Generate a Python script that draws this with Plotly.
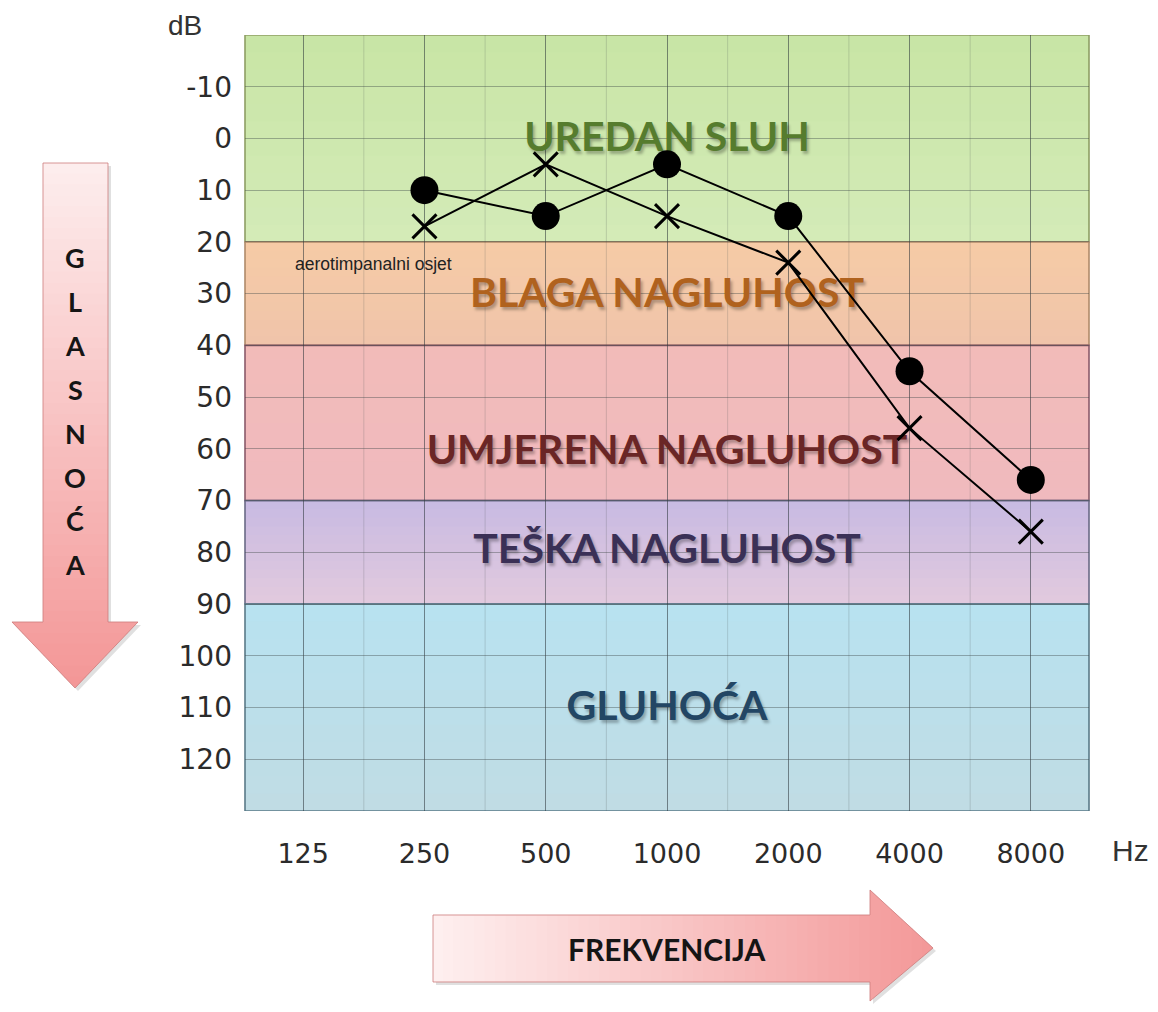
import plotly.graph_objects as go

# ---------------- data ----------------
FREQS = ["125", "250", "500", "1000", "2000", "4000", "8000"]
Y_TICKS = [-10, 0, 10, 20, 30, 40, 50, 60, 70, 80, 90, 100, 110, 120]

O_FREQS = ["250", "500", "1000", "2000", "4000", "8000"]
O_DB = [10, 15, 5, 15, 45, 66]

X_FREQS = ["250", "500", "1000", "2000", "4000", "8000"]
X_DB = [17, 5, 15, 24, 56, 76]

BAND_EDGES = [-20, 20, 40, 70, 90, 130]
BAND_NAMES = ["UREDAN SLUH", "BLAGA NAGLUHOST", "UMJERENA NAGLUHOST",
              "TEŠKA NAGLUHOST", "GLUHOĆA"]
BAND_LABEL_DB = [0.5, 30.5, 61, 80, 110.5]
BAND_TOP_COLORS = [(200, 229, 165), (246, 203, 166), (242, 187, 185), (200, 186, 226), (184, 226, 240)]
BAND_BOT_COLORS = [(212, 235, 184), (240, 196, 170), (240, 186, 190), (226, 202, 222), (192, 220, 228)]
BAND_LINE_COLORS = ["#8e9e64", "#b08a6a", "#8a5a6a", "#6a6a86", "#5a7a88"]
BAND_TEXT_COLORS = ["#567c2e", "#b0621e", "#6a2626", "#3a3056", "#234664"]

# ---------------- geometry helpers (screen pixel -> paper) ----------------
OFF = 8                      # page body margin
W, H = 1158 - 2 * OFF, 1012 - 2 * OFF
L, R, T, B = 245, 1089, 35, 811   # plot area in screen pixels


def px(xs):
    return (xs - L) / (R - L)


def py(ys):
    return (B - ys) / (B - T)


def clip_half(poly, axis, val, keep_greater):
    out = []
    n = len(poly)
    for i in range(n):
        cur, prev = poly[i], poly[i - 1]
        cin = cur[axis] >= val if keep_greater else cur[axis] <= val
        pin = prev[axis] >= val if keep_greater else prev[axis] <= val
        if cin:
            if not pin:
                t = (val - prev[axis]) / (cur[axis] - prev[axis])
                out.append((prev[0] + t * (cur[0] - prev[0]), prev[1] + t * (cur[1] - prev[1])))
            out.append(cur)
        elif pin:
            t = (val - prev[axis]) / (cur[axis] - prev[axis])
            out.append((prev[0] + t * (cur[0] - prev[0]), prev[1] + t * (cur[1] - prev[1])))
    return out


def path_of(poly, dx=0, dy=0):
    pts = ["%s%.5f,%.5f" % ("M" if i == 0 else "L", px(x + dx), py(y + dy)) for i, (x, y) in enumerate(poly)]
    return " ".join(pts) + " Z"


def lerp(c0, c1, t):
    return "rgb(%d,%d,%d)" % tuple(round(a + (b - a) * t) for a, b in zip(c0, c1))


def gradient_arrow(poly, axis, c0, c1, n=48):
    shapes = []
    lo = min(p[axis] for p in poly)
    hi = max(p[axis] for p in poly)
    shapes.append(dict(type="path", xref="paper", yref="paper", path=path_of(poly, 3, 3),
                       fillcolor="rgba(0,0,0,0.12)", line=dict(width=0), layer="above"))
    step = (hi - lo) / n
    for i in range(n):
        a = lo + i * step - 0.6
        b = lo + (i + 1) * step + 0.6
        piece = clip_half(clip_half(poly, axis, a, True), axis, b, False)
        if len(piece) < 3:
            continue
        shapes.append(dict(type="path", xref="paper", yref="paper", path=path_of(piece),
                           fillcolor=lerp(c0, c1, (i + 0.5) / n), line=dict(width=0), layer="above"))
    shapes.append(dict(type="path", xref="paper", yref="paper", path=path_of(poly),
                       fillcolor="rgba(0,0,0,0)", line=dict(color="rgba(205,125,125,0.8)", width=1),
                       layer="above"))
    return shapes


# ---------------- figure ----------------
fig = go.Figure()

shapes = []
for k in range(len(BAND_NAMES)):
    y0, y1 = BAND_EDGES[k], BAND_EDGES[k + 1]
    nst = 12
    for i in range(nst):
        a = y0 + (y1 - y0) * i / nst
        b = min(y1, y0 + (y1 - y0) * (i + 1) / nst + 0.4)   # slight overlap hides seams
        shapes.append(dict(type="rect", xref="paper", yref="y", x0=0, x1=1, y0=a, y1=b,
                           fillcolor=lerp(BAND_TOP_COLORS[k], BAND_BOT_COLORS[k], (i + 0.5) / nst),
                           line=dict(width=0), layer="below"))
    shapes.append(dict(type="rect", xref="paper", yref="y", x0=0, x1=1, y0=y0, y1=y1,
                       fillcolor="rgba(0,0,0,0)", line=dict(color=BAND_LINE_COLORS[k], width=1.6),
                       layer="between"))

for i in range(len(FREQS) - 1):
    shapes.append(dict(type="line", xref="x", yref="paper", x0=i + 0.5, x1=i + 0.5, y0=0, y1=1,
                       line=dict(color="rgba(70,80,80,0.2)", width=1), layer="between"))

v_arrow = [(43, 163), (108, 163), (108, 622), (138, 622), (75, 688), (12, 622), (43, 622)]
h_arrow = [(433, 915), (870, 915), (870, 890), (933, 948), (870, 1001), (870, 982), (433, 982)]
shapes += gradient_arrow(v_arrow, 1, (253, 238, 238), (243, 150, 150))
shapes += gradient_arrow(h_arrow, 0, (254, 240, 240), (243, 152, 152))

fig.add_trace(go.Scatter(
    x=["1000"] * len(BAND_NAMES), y=BAND_LABEL_DB, mode="text", text=BAND_NAMES,
    textposition="middle center",
    textfont=dict(family="Lato", size=41, color=BAND_TEXT_COLORS, weight="bold",
                  shadow="2px 3px 3px rgba(0,0,0,0.28)"),
    hoverinfo="skip", showlegend=False))

fig.add_trace(go.Scatter(
    x=O_FREQS, y=O_DB, mode="lines+markers", name="O",
    line=dict(color="black", width=2),
    marker=dict(symbol="circle", size=28, color="black"),
    showlegend=False))

fig.add_trace(go.Scatter(
    x=X_FREQS, y=X_DB, mode="lines+markers", name="X",
    line=dict(color="black", width=2),
    marker=dict(symbol="x-thin", size=24, color="black", line=dict(color="black", width=3)),
    showlegend=False))


def ann(xs, ys, text, font, xanchor="center"):
    return dict(x=px(xs), y=py(ys), xref="paper", yref="paper", text=text, showarrow=False,
                xanchor=xanchor, yanchor="middle", font=font)


annotations = [
    ann(185, 25, "dB", dict(family="Liberation Sans", size=28, color="#333333")),
    ann(1130, 850, "Hz", dict(family="Liberation Sans", size=30, color="#333333")),
    ann(293, 264, "aerotimpanalni osjet", dict(family="Liberation Sans", size=17.5, color="#222222"),
        xanchor="left"),
    ann(667, 949, "FREKVENCIJA", dict(family="Lato", size=30, color="#151515", weight="bold")),
]
for i, ch in enumerate("GLASNOĆA"):
    annotations.append(ann(75, 258 + i * 43.8, ch,
                           dict(family="Lato", size=27, color="#151515", weight="bold")))

fig.update_layout(
    width=W, height=H,
    margin=dict(l=L - OFF, r=W - (R - OFF), t=T - OFF, b=H - (B - OFF)),
    paper_bgcolor="white", plot_bgcolor="white",
    shapes=shapes, annotations=annotations,
    xaxis=dict(type="category", categoryorder="array", categoryarray=FREQS,
               range=[-0.48, 6.48], showgrid=True, gridcolor="rgba(40,50,55,0.55)", gridwidth=1,
               zeroline=False, showline=False, ticks="", ticklabelstandoff=24,
               tickfont=dict(family="DejaVu Sans", size=27, color="#2b2b2b"), fixedrange=True),
    yaxis=dict(range=[130, -20], tickvals=Y_TICKS, ticktext=[str(v) for v in Y_TICKS],
               showgrid=True, gridcolor="rgba(60,70,70,0.4)", gridwidth=1.2, zeroline=False,
               showline=False, ticks="", ticklabelstandoff=12,
               tickfont=dict(family="DejaVu Sans", size=28, color="#2b2b2b"), fixedrange=True),
)

fig.write_html("out.html")
